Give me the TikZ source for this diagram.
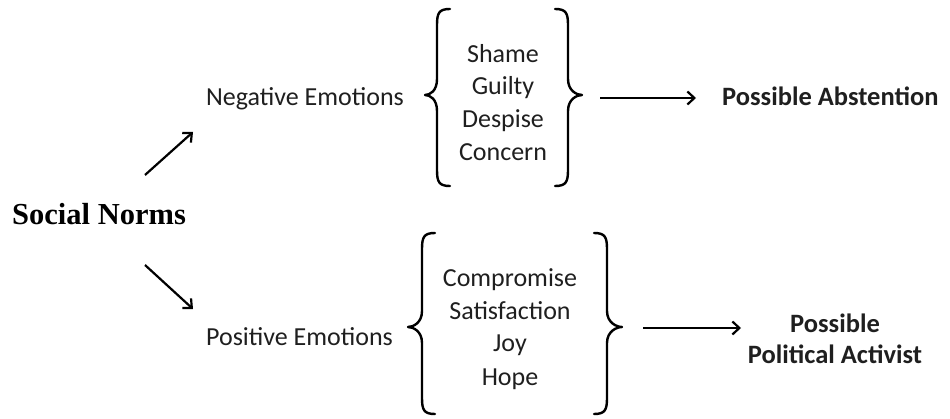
\documentclass[tikz,border=0pt]{standalone}
\usepackage{fontspec}
\setmainfont{Carlito}
\newfontfamily\normsfont{Liberation Serif}
\usetikzlibrary{arrows.meta}
\begin{document}
\begin{tikzpicture}[x=1pt,y=-1pt,
  label/.style={inner sep=0pt,anchor=base,font=\fontsize{26}{30}\selectfont,text=black!88},
  outcome/.style={label,font=\fontsize{26.5}{31}\selectfont\bfseries},
  brace/.style={line width=2.4pt,line cap=round,line join=round},
  link/.style={line width=2.2pt,-{Straight Barb[length=7pt,width=13pt,line width=2.2pt]}}]
\useasboundingbox (0,0) rectangle (950,419);

% root
\node[inner sep=0pt,anchor=base west,font=\fontsize{30.5}{34}\normsfont\bfseries] (norms) at (12,225) {Social Norms};

% branch labels
\node[label,anchor=base west] (neg) at (206,106) {Negative Emotions};
\node[label,anchor=base west] (pos) at (206,345) {Positive Emotions};

% emotion lists
\node[label] (shame)   at (503,63)  {Shame};
\node[label] (guilty)  at (503,95)  {Guilty};
\node[label] (despise) at (503,128) {Despise};
\node[label] (concern) at (503,161) {Concern};

\node[label] (compromise)   at (510,287) {Compromise};
\node[label] (satisfaction) at (510,320) {Satisfaction};
\node[label] (joy)          at (510,352) {Joy};
\node[label] (hope)         at (510,385) {Hope};

% outcomes
\node[outcome,anchor=base west] (abst) at (722,106) {Possible Abstention};
\node[outcome] (poss) at (835,333) {Possible};
\node[outcome] (activ) at (835,363) {Political Activist};

% braces: top, bottom, middle, tip x, stem x
\newcommand{\openbrace}[5]{%
  \draw[brace] (#5+13,#1) .. controls (#5+2,#1) and (#5,#1+4) .. (#5,#1+16)
    -- (#5,#3-16) .. controls (#5,#3-4) and (#4+5,#3) .. (#4,#3)
    .. controls (#4+5,#3) and (#5,#3+4) .. (#5,#3+16)
    -- (#5,#2-16) .. controls (#5,#2-4) and (#5+2,#2) .. (#5+13,#2);}
\newcommand{\closebrace}[5]{%
  \draw[brace] (#5-13,#1) .. controls (#5-2,#1) and (#5,#1+4) .. (#5,#1+16)
    -- (#5,#3-16) .. controls (#5,#3-4) and (#4-5,#3) .. (#4,#3)
    .. controls (#4-5,#3) and (#5,#3+4) .. (#5,#3+16)
    -- (#5,#2-16) .. controls (#5,#2-4) and (#5-2,#2) .. (#5-13,#2);}

\openbrace{9}{186}{95}{425}{437}
\closebrace{9}{186}{95}{582}{568}
\openbrace{233}{414}{327}{408}{422}
\closebrace{233}{414}{327}{622}{607}

% connector end points
\coordinate (upS) at (145,175);
\coordinate (upE) at (193,132);
\coordinate (dnS) at (145,265);
\coordinate (dnE) at (193,309);
\coordinate (topS) at (600,98);
\coordinate (topE) at (696,98);
\coordinate (botS) at (643,328);
\coordinate (botE) at (741,328);

\draw[link] (upS) -- (upE);
\draw[link] (dnS) -- (dnE);
\draw[link] (topS) -- (topE);
\draw[link] (botS) -- (botE);
\end{tikzpicture}
\end{document}
